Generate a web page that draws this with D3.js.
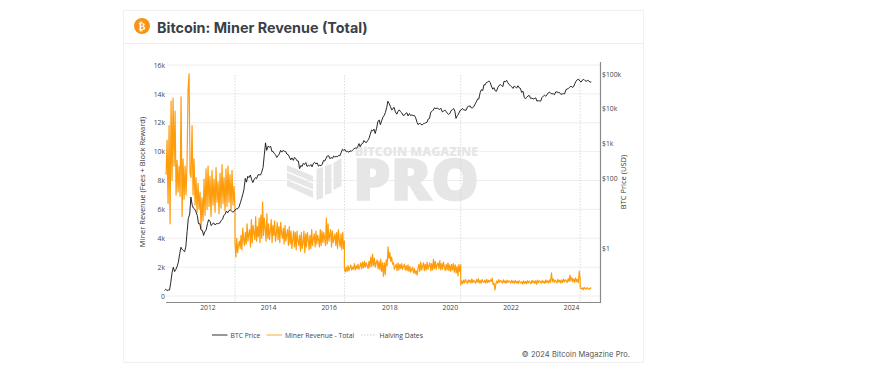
<!DOCTYPE html>
<html lang="en">
  <head>
    <meta charset="UTF-8" />
    <title>Bitcoin: Miner Revenue (Total)</title>
    <style>
      body { margin: 0; background: #fff; }
      svg { display: block; }
      text { font-family: "Open Sans", sans-serif; fill: #444; }
    </style>
  </head>
  <body>
    <div class="chart"></div>
    <script src="https://d3js.org/d3.v7.min.js"></script>
    <script>
      // halving dates split the revenue series into epochs
      const halvingDates = ["2012-11-28", "2016-07-09", "2020-05-11", "2024-04-20"];
      const seriesStart = "2010-08-20";
      const seriesEnd = "2024-09-01";

      const revenueEpoch1 = [8400,10800,6400,11800,5000,13500,8000,13700,9000,12800,7000,9400,7200,9000,6900,13800,5500,9500,6700,9000,7000,9300,14300,15400,8500,8200,11800,7000,9500,6300,8200,5800,7800,6000,7200,4700,6800,5200,8100,5600,8800,6000,9000,6200,8300,5500,8700,6300,8100,5800,8900,6500,7900,5700,8500,6100,9100,6400,8200,5900,8800,6200,9000,6500,8400,6000,8700,6300,7600,6000];
      const revenueEpoch2 = [3700,2700,4000,3000,3500,3800,3300,4200,3200,4700,3900,3500,4400,3600,5000,3800,4300,4600,3400,5300,3700,4900,4400,3900,5500,3800,4800,4100,5400,3700,5600,4000,6500,4200,5400,4700,3800,5700,4000,5000,3900,4500,5300,3700,4900,4200,5200,3800,4300,5100,3900,4800,3700,5100,4400,4000,4700,3600,4900,3800,4200,4600,3500,4800,3600,4500,3300,3900,4500,3400,4400,3200,4500,3800,3500,4200,3100,4400,3300,3700,4500,3000,4300,3400,4400,3900,3200,4200,3300,4600,3500,4000,4300,3400,4500,3600,4200,3900,3400,4600,3500,4500,3700,4400,4000,3500,5400,3600,5000,3800,4200,4600,3400,4500,3700,4000,4300,3500,4400,3300,4600,3800,3400,4300,3200,4400,3300,3800];
      const revenueEpoch3 = [1900,1650,2000,1700,2100,1750,1950,2150,1800,2000,1850,2250,1800,2100,1900,2200,1850,2050,2300,1900,2350,1950,2400,2000,2300,2100,1900,2400,2000,2700,2050,2900,2100,2600,2000,2300,2500,1900,2400,1800,2550,1700,2300,1350,2300,1500,2500,2100,3400,2600,3000,2400,2700,2200,2300,1850,2050,2200,1750,2300,1800,2200,1900,2250,1850,2050,2200,1800,2100,1750,2150,1700,2050,1650,1850,2000,1600,1900,1550,1750,1450,1900,2200,1700,2350,1800,2050,2300,1750,2200,1800,2350,1850,2100,2300,1750,2250,1800,2550,1900,2400,1850,2150,2300,1900,2450,1800,2250,1850,2350,2000,1750,2200,1800,2300,1750,2150,1700,2200,1800,2250,1650,2150,1600,2050,1400,2200,1700,2150];
      const revenueEpoch4 = [780,1050,850,1100,900,1150,1000,880,1120,950,1100,900,1180,930,1090,1000,880,1130,960,1200,900,1080,870,1140,1000,950,1100,890,1160,920,1080,960,1120,1000,1240,780,900,420,850,1050,880,1130,950,1080,1000,900,1120,930,1060,880,1100,940,1050,1000,890,1090,920,1040,880,1080,910,1020,860,1060,950,900,1000,830,1050,880,1010,850,1060,900,1030,950,860,1090,920,1040,880,1060,800,1100,930,1050,990,890,1080,920,1030,870,1110,940,1060,900,1120,950,1600,1000,1180,950,1100,1030,920,1150,960,1090,900,1120,940,1180,980,1120,1050,930,1200,1000,1450,1050,1280,980,1180,950,1250,1000,1150,920,1700,1200];
      const revenueEpoch5 = [620,480,560,430,600,520,470,580,500,450,560,530];

      const priceStart = [2010, 7];
      const priceValues = [
        0.06,0.065,0.06,0.062,0.062,0.10,0.20,0.28,0.21,0.24,
        0.30,0.39,0.70,1.05,0.92,0.85,0.78,1.1,3.0,7.0,9.5,29,17,14,13,11,8.5,5,5,3.3,3.2,2.3,3,3.2,
        5,6.5,5.8,4.4,4.9,5.3,4.6,5,5,5.1,5.3,6.2,6.7,8.6,9.3,11.5,10.2,11.8,12.4,11.8,10.7,11.2,12.6,13.3,
        13.5,15,20,26,34,47,100,78,115,105,125,95,76,92,105,98,127,127,125,150,205,450,1050,640,
        850,790,830,600,600,520,480,400,450,500,640,570,640,600,590,500,480,410,340,390,330,400,370,320,
        315,190,235,220,270,250,285,220,240,225,250,215,270,290,260,280,225,240,230,255,330,315,380,440,
        450,370,395,375,440,410,430,415,460,445,560,690,640,680,580,600,565,620,600,650,710,750,730,800,
        1000,810,980,1010,1220,1100,1080,1220,1400,1800,2450,2300,2600,1950,2750,4200,4800,3500,4500,5700,6500,7800,11000,16500,
        13900,11500,9200,10400,10900,8200,7000,8300,9300,8300,7600,6500,6500,7300,7700,6250,7300,6400,6650,6400,6350,5500,4100,3500,
        3900,3600,3450,3700,3800,3950,4100,5100,5300,7900,8500,9200,10700,10100,10500,10000,9600,10400,8200,8400,9300,8500,7500,6900,
        7300,8800,9400,10200,8600,5300,6400,7100,8800,9200,10200,9300,9200,9100,11400,11800,12100,10600,10700,11400,13800,15800,19200,19100,
        29500,35500,33500,49000,48500,56500,58500,63500,56500,45500,36500,40500,33000,31800,40500,46500,49500,46500,43500,62000,60000,66000,55500,49500,
        46500,43000,38500,45000,42500,39500,46000,40000,38700,29500,32000,21500,19300,21500,23400,24200,19900,20300,19200,19500,20700,16700,17100,16800,
        16600,21000,23200,24800,22800,25000,28700,30000,28200,26900,27100,25400,30700,30500,29300,29300,25900,26700,27400,26800,35500,37100,38700,41500,
        44800,41300,43100,52500,62000,68500,70800,63000,58500,66500,70500,65000,61500,65500,64000,58500,59000
      ];

      const revenueTicks = [0,2000,4000,6000,8000,10000,12000,14000,16000];
      const priceTicks = [1,100,1000,10000,100000];
      const priceTickLabels = ["$1","$100","$1k","$10k","$100k"];
      const yearTicks = [2012,2014,2016,2018,2020,2022,2024];
      const legendNames = ["BTC Price","Miner Revenue - Total","Halving Dates"];

      const drawChart = ()=>{
        const width = 885, height = 382;
        const plot = {left: 166, right: 600, top: 62, bottom: 302};
        const orange = "#ff9c0a";

        const svg = d3.select(".chart")
          .append("svg")
            .attr("width", width)
            .attr("height", height);

        // card
        svg.append("rect")
          .attr("x", 123.5).attr("y", 10.5)
          .attr("width", 520).attr("height", 352)
          .attr("fill", "#fff")
          .attr("stroke", "#f0f0f0");
        svg.append("line")
          .attr("x1", 123).attr("x2", 643)
          .attr("y1", 43.5).attr("y2", 43.5)
          .attr("stroke", "#eee");

        // header
        svg.append("circle")
          .attr("cx", 142).attr("cy", 26).attr("r", 8)
          .attr("fill", "#f7931a");
        svg.append("text")
          .attr("x", 142).attr("y", 30)
          .attr("text-anchor", "middle")
          .style("font-family", "'DejaVu Sans'")
          .style("font-size", "10px")
          .style("font-weight", "bold")
          .style("fill", "#fff")
          .text("₿");
        svg.append("text")
          .attr("x", 157).attr("y", 33)
          .style("font-family", "Inter")
          .style("font-size", "14.350px")
          .style("font-weight", "700")
          .style("fill", "#3a4047")
          .text("Bitcoin: Miner Revenue (Total)");

        // scales
        const x = d3.scaleTime()
          .domain([new Date("2010-08-07"), new Date("2024-12-15")])
          .range([165, plot.right]);
        const y = d3.scaleLinear()
          .domain([0, 16000])
          .range([296, 65]);
        const yPrice = d3.scaleLog()
          .domain([1, 100000])
          .range([248, 74]);

        // grid
        svg.append("g")
          .selectAll("line")
          .data(revenueTicks)
          .join("line")
            .attr("x1", plot.left).attr("x2", plot.right)
            .attr("y1", d=>y(d)).attr("y2", d=>y(d))
            .attr("stroke", "#eeeeee");

        // watermark
        const mark = svg.append("g").style("pointer-events", "none");
        const markColor = "#e6e6e6";
        mark.append("text")
          .attr("x", 355).attr("y", 155.500)
          .attr("textLength", 123).attr("lengthAdjust", "spacingAndGlyphs")
          .style("font-size", "12.500px").style("font-weight", "800").style("fill", markColor)
          .text("BITCOIN MAGAZINE");
        mark.append("text")
          .attr("x", 353).attr("y", 200)
          .attr("textLength", 126).attr("lengthAdjust", "spacingAndGlyphs")
          .style("font-size", "56px").style("font-weight", "800").style("fill", markColor)
          .style("stroke", markColor).style("stroke-width", 1.5)
          .text("PRO");
        const markShapes = [
          "M287,165L313,176V182L287,171Z",
          "M287,172.500L313,183.500V189.500L287,178.500Z",
          "M287,180L313,191V198L287,186Z",
          "M316.500,169L323,167V198L316.500,200Z",
          "M325,166L331.500,164V193L325,195Z",
          "M333.500,163L341.500,158V186L333.500,190Z"
        ];
        mark.selectAll("path")
          .data(markShapes)
          .join("path")
            .attr("d", d=>d)
            .attr("fill", markColor);

        // halving lines
        const halvings = halvingDates.map(d=>new Date(d));
        svg.append("g")
          .selectAll("line")
          .data(halvings)
          .join("line")
            .attr("x1", d=>x(d)).attr("x2", d=>x(d))
            .attr("y1", 75).attr("y2", plot.bottom)
            .attr("stroke", "#d2d2d2")
            .attr("stroke-width", 0.8)
            .attr("stroke-dasharray", "1.500 1.500");

        // revenue: each epoch runs between its two boundary dates
        const bounds = [new Date(seriesStart), ...halvings, new Date(seriesEnd)];
        const epochs = [revenueEpoch1, revenueEpoch2, revenueEpoch3, revenueEpoch4, revenueEpoch5];
        const revenue = epochs.flatMap((values, e)=>{
          const t = d3.scaleLinear().domain([0, values.length - 1]).range([+bounds[e], +bounds[e + 1]]);
          return values.map((v, i)=>({date: new Date(t(i)), value: v}));
        });
        svg.append("path")
          .datum(revenue)
          .attr("fill", "none")
          .attr("stroke", orange)
          .attr("stroke-width", 1.2)
          .attr("stroke-linejoin", "round")
          .attr("d", d3.line().x(d=>x(d.date)).y(d=>y(d.value)));

        // price
        const price = priceValues.map((v, i)=>({
          date: new Date(priceStart[0], priceStart[1] + Math.floor(i / 2), i % 2 ? 15 : 1),
          value: v
        }));
        svg.append("path")
          .datum(price)
          .attr("fill", "none")
          .attr("stroke", "#111")
          .attr("stroke-width", 0.9)
          .attr("stroke-linejoin", "round")
          .attr("d", d3.line().x(d=>x(d.date)).y(d=>yPrice(d.value)));

        // axes
        const fontSize = "6.800px";
        const axisLeft = svg.append("g")
          .attr("transform", `translate(${plot.left}, 0)`)
          .call(d3.axisLeft(y).tickValues(revenueTicks).tickSize(0).tickPadding(1)
            .tickFormat(d=>d === 0 ? "0" : `${d / 1000}k`));
        const axisRight = svg.append("g")
          .attr("transform", `translate(${plot.right}, 0)`)
          .call(d3.axisRight(yPrice).tickValues(priceTicks).tickSize(0).tickPadding(2)
            .tickFormat((d, i)=>priceTickLabels[i]));
        const axisBottom = svg.append("g")
          .attr("transform", `translate(0, ${plot.bottom})`)
          .call(d3.axisBottom(x).tickValues(yearTicks.map(d=>new Date(d, 0, 1))).tickSize(0).tickPadding(3)
            .tickFormat(d3.timeFormat("%Y")));
        [axisLeft, axisRight, axisBottom].forEach(a=>{
          a.select(".domain").remove();
          a.selectAll("text").style("font-size", fontSize).style("font-family", "'Open Sans'").style("fill", "#444");
        });

        svg.append("path")
          .attr("d", `M${plot.left},${plot.bottom + 0.5}H${plot.right + 0.5}V${plot.top}`)
          .attr("fill", "none")
          .attr("stroke", "#8a8a8a")
          .attr("stroke-width", 1.2);

        // axis titles
        svg.append("text")
          .attr("transform", "translate(145, 182) rotate(-90)")
          .attr("text-anchor", "middle")
          .style("font-size", "7.500px")
          .style("fill", "#333")
          .text("Miner Revenue (Fees + Block Reward)");
        svg.append("text")
          .attr("transform", "translate(626, 182) rotate(-90)")
          .attr("text-anchor", "middle")
          .style("font-size", "7.500px")
          .style("fill", "#333")
          .text("BTC Price (USD)");

        // legend
        const legendX = [212, 266.5, 361];
        const legendStyle = [
          {stroke: "#333", dash: null},
          {stroke: "#ffab2e", dash: null},
          {stroke: "#ccc", dash: "1.500 1.500"}
        ];
        const legend = svg.append("g")
          .selectAll("g")
          .data(legendNames)
          .join("g")
            .attr("transform", (d, i)=>`translate(${legendX[i]}, 335)`);
        legend.append("line")
          .attr("x1", 0).attr("x2", 15.5)
          .attr("stroke", (d, i)=>legendStyle[i].stroke)
          .attr("stroke-dasharray", (d, i)=>legendStyle[i].dash);
        legend.append("text")
          .attr("x", 18.5).attr("y", 2.5)
          .style("font-size", "6.800px")
          .text(d=>d);

        // footer
        svg.append("text")
          .attr("x", 630).attr("y", 357)
          .attr("text-anchor", "end")
          .style("font-family", "Inter")
          .style("font-size", "7.500px")
          .style("letter-spacing", "0.050px")
          .style("fill", "#555")
          .text("© 2024 Bitcoin Magazine Pro.");
      };

      drawChart()
    </script>
  </body>
</html>
